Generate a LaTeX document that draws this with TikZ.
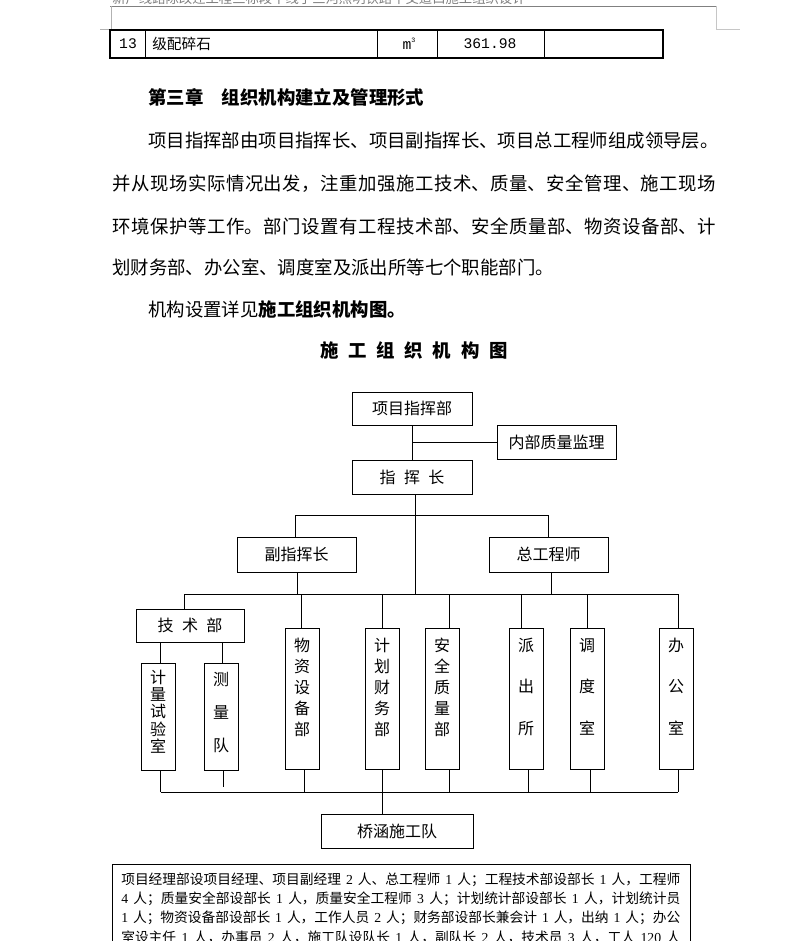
\documentclass[tikz,border=0pt]{standalone}
\usepackage{fontspec}
\setmainfont{Noto Sans CJK SC}
\newfontfamily\tnr{Liberation Serif}
\newfontfamily\mono{Liberation Mono}
\XeTeXlinebreaklocale "zh"
\XeTeXlinebreakskip=0pt plus 2pt minus 0.3pt
\newcommand\dg[1]{{\tnr\ #1\ }}
\newcommand\justline[2]{\parbox{#1}{\parindent=0pt\parfillskip=0pt\relax #2}}
\tikzset{
  ln/.style={line width=0.75pt},
  box/.style={draw, line width=0.75pt, inner sep=0pt, font=\fontsize{12}{14}\selectfont},
  vbox/.style={draw, line width=0.75pt, inner sep=0pt, minimum width=25.5pt},
  vtext/.style={inner sep=0pt, align=center},
  body/.style={anchor=west, inner sep=0pt, font=\fontsize{13.8}{16}\selectfont},
  note/.style={anchor=west, inner sep=0pt, font=\fontsize{10.3}{12}\selectfont},
  cell/.style={inner sep=0pt, font=\fontsize{11}{13}\selectfont},
}
\begin{document}
\begin{tikzpicture}[x=0.75pt,y=-0.75pt]
\useasboundingbox (0,0) rectangle (792,941);
\clip (0,0) rectangle (792,941);
\fill[white] (0,0) rectangle (792,941);
% header
\node[anchor=west, inner sep=0pt, text=gray, font=\fontsize{10}{12}\selectfont] (hdr) at (112,-1.5) {新广线路除改迁工程三标段干线子三河照明铁路平交道口施工组织设计};
\draw[line width=0.75pt, gray] (110,6.5) -- (716,6.5);
\draw[line width=0.75pt, gray!60] (111.5,6.5) -- (111.5,29.5) -- (100,29.5);
\draw[line width=0.75pt, gray!45] (716,6.5) -- (716,30) -- (740,30);
% table row
\draw[line width=1.5pt] (110,30) rectangle (663,58);
\foreach \xx in {145,377,437,544} \draw[ln] (\xx,30) -- (\xx,58);
\node[cell, font=\mono\fontsize{11}{13}\selectfont] (c1) at (128,44) {13};
\node[cell, anchor=west] (c2) at (152,44) {级配碎石};
\node[cell, font=\mono\fontsize{11}{13}\selectfont] (c3) at (409,44) {m\raisebox{5pt}{\fontsize{5}{6}\selectfont 3}};
\node[cell, font=\mono\fontsize{11}{13}\selectfont] (c4) at (490,44) {361.98};
% text
\node[body, font=\fontsize{13.8}{16}\selectfont\bfseries] (h1) at (148,97) {第三章\hspace{13.8pt}组织机构建立及管理形式};
\node[body] (p1) at (148,141) {\hbox to 426pt{项目指挥部由项目指挥长、项目副指挥长、项目总工程师组成领导层。}};
\node[body] (p2) at (112,184) {\justline{453pt}{并从现场实际情况出发，注重加强施工技术、质量、安全管理、施工现场}};
\node[body] (p3) at (112,226) {\justline{453pt}{环境保护等工作。部门设置有工程技术部、安全质量部、物资设备部、计}};
\node[body] (p4) at (112,267) {划财务部、办公室、调度室及派出所等七个职能部门。};
\node[body] (p5) at (148,309) {机构设置详见{\bfseries 施工组织机构图。}};
\node[inner sep=0pt, font=\fontsize{13.8}{16}\selectfont\bfseries] (title) at (414,350) {施\hspace{7.3pt}工\hspace{7.3pt}组\hspace{7.3pt}织\hspace{7.3pt}机\hspace{7.3pt}构\hspace{7.3pt}图};
% chart boxes
\node[box, minimum width=90pt, minimum height=24.75pt] (xm) at (412,408.5) {项目指挥部};
\node[box, minimum width=89.25pt, minimum height=25.5pt] (nb) at (556.5,442) {内部质量监理};
\node[box, minimum width=90pt, minimum height=25.5pt] (zh) at (412,477) {指\hspace{6.3pt}挥\hspace{6.3pt}长};
\node[box, minimum width=89.25pt, minimum height=26.25pt] (fz) at (296.5,554.5) {副指挥长};
\node[box, minimum width=89.25pt, minimum height=26.25pt] (zg) at (548.5,554.5) {总工程师};
\node[box, minimum width=81pt, minimum height=24.75pt] (js) at (190,625.5) {技\hspace{6.3pt}术\hspace{6.3pt}部};
\node[vbox, minimum height=80.25pt] (jl) at (158,716.5) {};
\node[vbox, minimum height=80.25pt] (cl) at (221,716.5) {};
\node[vbox, minimum height=105.75pt] (wz) at (302,698.5) {};
\node[vbox, minimum height=105.75pt] (jh) at (382,698.5) {};
\node[vbox, minimum height=105.75pt] (aq) at (442,698.5) {};
\node[vbox, minimum height=105.75pt] (pc) at (526,698.5) {};
\node[vbox, minimum height=105.75pt] (dd) at (587,698.5) {};
\node[vbox, minimum height=105.75pt] (bg) at (676,698.5) {};
\node[vtext, font=\fontsize{12}{12.94}\selectfont] (jl-t) at (158,711.5) {计\\量\\试\\验\\室};
\node[vtext, font=\fontsize{12}{24.75}\selectfont] (cl-t) at (221,713) {测\\量\\队};
\node[vtext, font=\fontsize{12}{15.75}\selectfont] (wz-t) at (302,687) {物\\资\\设\\备\\部};
\node[vtext, font=\fontsize{12}{15.75}\selectfont] (jh-t) at (382,687) {计\\划\\财\\务\\部};
\node[vtext, font=\fontsize{12}{15.75}\selectfont] (aq-t) at (442,687) {安\\全\\质\\量\\部};
\node[vtext, font=\fontsize{12}{31.1}\selectfont] (pc-t) at (526,686.5) {派\\出\\所};
\node[vtext, font=\fontsize{12}{31.1}\selectfont] (dd-t) at (587,686.5) {调\\度\\室};
\node[vtext, font=\fontsize{12}{31.1}\selectfont] (bg-t) at (676,686.5) {办\\公\\室};
\node[box, minimum width=114pt, minimum height=25.5pt] (qh) at (397,831) {桥涵施工队};
% connectors
\draw[ln] (xm.south) -- (zh.north);
\draw[ln] (nb.west) -- (nb.west -| xm.south);
\coordinate (busL) at (184,594);
\coordinate (busR) at (678,594);
\coordinate (barL) at (295,515.5);
\coordinate (barR) at (548,515.5);
\draw[ln] ([xshift=2.25pt]zh.south) -- ([xshift=2.25pt]zh.south |- busL);
\draw[ln] (fz.north -| barL) -- (barL) -- (barR) -- (zg.north -| barR);
\draw[ln] ([xshift=0.4pt]fz.south) -- ([xshift=0.4pt]fz.south |- busL);
\draw[ln] ([xshift=1.9pt]zg.south) -- ([xshift=1.9pt]zg.south |- busL);
\draw[ln] (busL) -- (busR);
\draw[ln] (busL) -- (js.north -| busL);
\draw[ln] ([xshift=1.5pt]jl.north |- js.south) -- ([xshift=1.5pt]jl.north);
\draw[ln] ([xshift=0.75pt]cl.north |- js.south) -- ([xshift=0.75pt]cl.north);
\coordinate (t-wz) at (301,594);
\coordinate (t-jh) at (382,594);
\coordinate (t-aq) at (449,594);
\coordinate (t-pc) at (521.5,594);
\coordinate (t-dd) at (587,594);
\draw[ln] (t-wz) -- (wz.north -| t-wz);
\draw[ln] (t-jh) -- (jh.north -| t-jh);
\draw[ln] (t-aq) -- (aq.north -| t-aq);
\draw[ln] (t-pc) -- (pc.north -| t-pc);
\draw[ln] (t-dd) -- (dd.north -| t-dd);
\draw[ln] (busR) -- (bg.north -| busR);
% bottom bus
\coordinate (bbL) at (160.5,792);
\coordinate (bbR) at (678,792);
\coordinate (b-cl) at (223,787);
\coordinate (b-wz) at (304,792);
\coordinate (b-jh) at (382,792);
\coordinate (b-aq) at (449,792);
\coordinate (b-pc) at (528,792);
\coordinate (b-dd) at (590,792);
\draw[ln] (bbL) -- (bbR);
\draw[ln] (jl.south -| bbL) -- (bbL);
\draw[ln] (cl.south -| b-cl) -- (b-cl);
\draw[ln] (wz.south -| b-wz) -- (b-wz);
\draw[ln] (jh.south -| b-jh) -- (b-jh);
\draw[ln] (aq.south -| b-aq) -- (b-aq);
\draw[ln] (pc.south -| b-pc) -- (b-pc);
\draw[ln] (dd.south -| b-dd) -- (b-dd);
\draw[ln] (bg.south -| bbR) -- (bbR);
\draw[ln] (b-jh) -- (qh.north -| b-jh);
% note
\draw[ln] (112,864) rectangle (690,1000);
\node[note] (n1) at (121,880) {\hbox to 419.25pt{项目经理部设项目经理、项目副经理\dg{2}人、总工程师\dg{1}人；工程技术部设部长\dg{1}人，工程师}};
\node[note] (n2) at (121,899) {\hbox to 419.25pt{{\tnr 4\ }人；质量安全部设部长\dg{1}人，质量安全工程师\dg{3}人；计划统计部设部长\dg{1}人，计划统计员}};
\node[note] (n3) at (121,918) {\hbox to 419.25pt{{\tnr 1\ }人；物资设备部设部长\dg{1}人，工作人员\dg{2}人；财务部设部长兼会计\dg{1}人，出纳\dg{1}人；办公}};
\node[note] (n4) at (121,937) {\hbox to 419.25pt{室设主任\dg{1}人，办事员\dg{2}人，施工队设队长\dg{1}人，副队长\dg{2}人，技术员\dg{3}人，工人\dg{120}人}};
\end{tikzpicture}
\end{document}
